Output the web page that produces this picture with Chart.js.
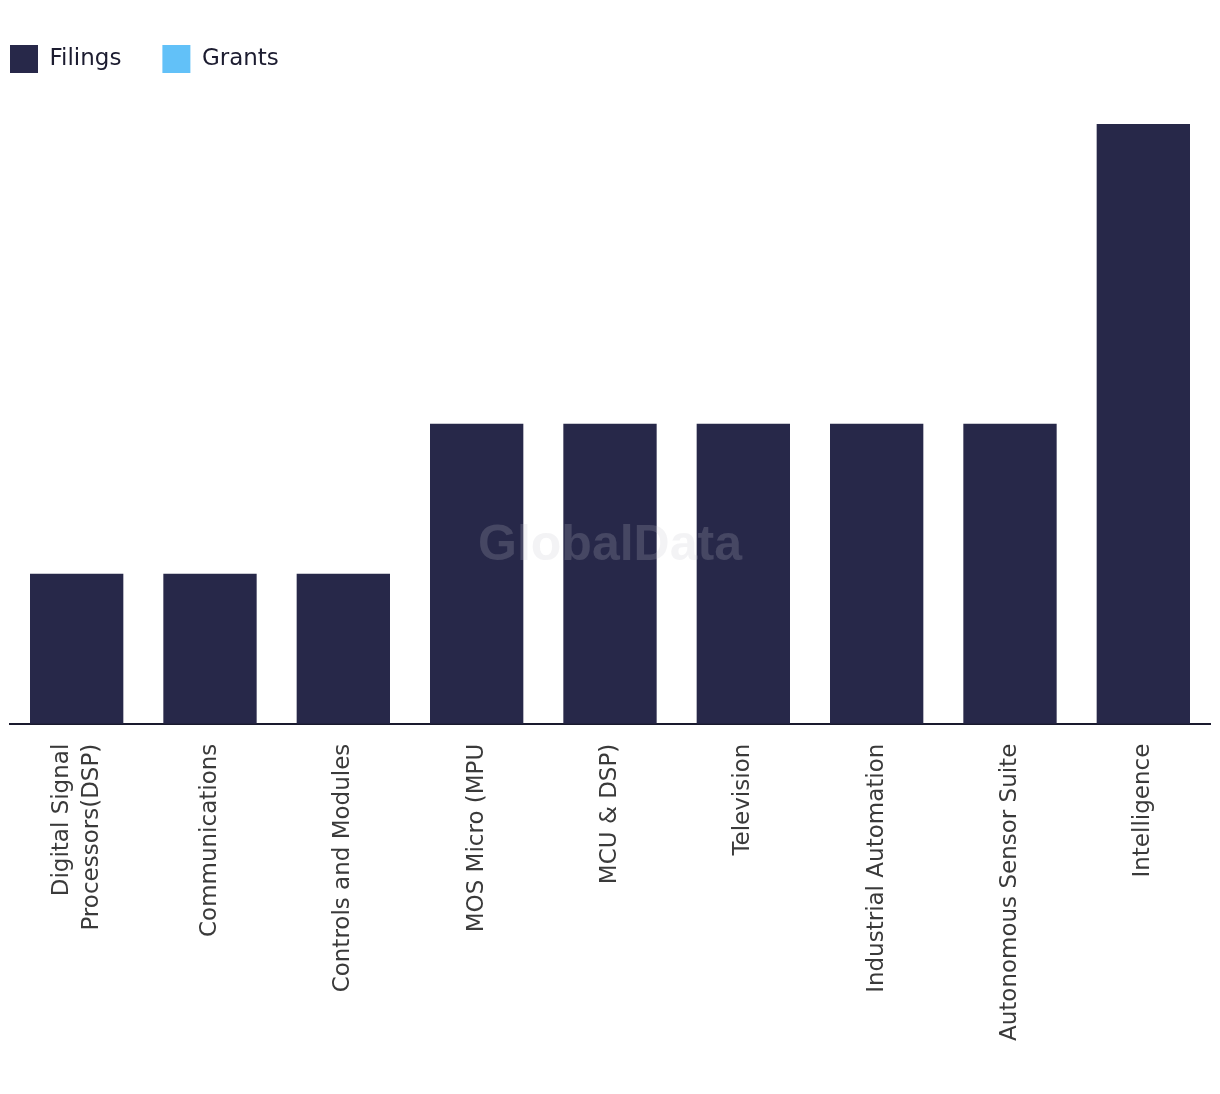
<!DOCTYPE html>
<html>
<head>
<meta charset="utf-8">
<script src="https://cdn.jsdelivr.net/npm/chart.js@4/dist/chart.umd.min.js"></script>
<style>
html,body{margin:0;padding:0;background:#fff;}
#wrap{width:1220px;height:1094px;position:relative;}
</style>
</head>
<body>
<div id="wrap"><canvas id="c" width="1220" height="1094"></canvas></div>
<script>
const categories = [
  ["Digital Signal", "Processors(DSP)"],
  "Communications",
  "Controls and Modules",
  "MOS Micro (MPU",
  "MCU & DSP)",
  "Television",
  "Industrial Automation",
  "Autonomous Sensor Suite",
  "Intelligence"
];
const filings = [1, 1, 1, 2, 2, 2, 2, 2, 4];
const grants = [0, 0, 0, 0, 0, 0, 0, 0, 0];

const LEGEND_PAD = 41;

const legendLayout = {
  id: 'legendLayout',
  beforeInit(chart) {
    const orig = chart.legend.fit;
    chart.legend.fit = function () {
      orig.call(this);
      this.height = 117;
    };
  },
  afterLayout(chart) {
    chart.legend.left -= LEGEND_PAD;
    chart.legend.right -= LEGEND_PAD;
    chart.legend.top -= 3;
    chart.legend.bottom -= 3;
  },
  beforeDraw(chart) {
    // center multi-line rotated tick labels on their bar
    const scale = chart.scales.x;
    const items = scale.getLabelItems();
    items.forEach(it => {
      if (Array.isArray(it.label) && !it._centered) {
        const lh = it.font.lineHeight;
        it.options.translation[0] -= lh * (it.label.length - 1) / 2;
        it._centered = true;
      }
    });
  }
};

const watermark = {
  id: 'watermark',
  afterDatasetsDraw(chart) {
    const ctx = chart.ctx;
    ctx.save();
    ctx.font = 'bold 50px "Liberation Sans", Arial, sans-serif';
    ctx.fillStyle = 'rgba(196,196,204,0.2)';
    ctx.textAlign = 'center';
    ctx.textBaseline = 'middle';
    ctx.fillText('GlobalData', 610, 546);
    ctx.restore();
  }
};

new Chart(document.getElementById('c'), {
  type: 'bar',
  data: {
    labels: categories,
    datasets: [
      { label: 'Filings', data: filings, backgroundColor: '#272849', grouped: false, categoryPercentage: 1, barPercentage: 0.7 },
      { label: 'Grants', data: grants, backgroundColor: '#62c1f8', grouped: false, categoryPercentage: 1, barPercentage: 0.7 }
    ]
  },
  options: {
    responsive: false,
    animation: false,
    layout: { padding: { left: 10, right: 10, top: 7, bottom: 33 } },
    plugins: {
      legend: {
        position: 'top',
        align: 'start',
        labels: {
          boxWidth: 28,
          boxHeight: 28,
          padding: LEGEND_PAD,
          color: '#1c1c30',
          font: { size: 23, family: '"DejaVu Sans", sans-serif' }
        }
      },
      tooltip: { enabled: false }
    },
    scales: {
      x: {
        grid: { display: false, drawTicks: false },
        border: { display: true, color: '#1a1a2e', width: 2 },
        ticks: {
          maxRotation: 90,
          minRotation: 90,
          padding: 20,
          color: '#3a3a3a',
          font: { size: 23, family: '"DejaVu Sans", sans-serif', lineHeight: 1.3 }
        }
      },
      y: {
        display: false,
        min: 0,
        max: 4
      }
    }
  },
  plugins: [legendLayout, watermark]
});
</script>
</body>
</html>
